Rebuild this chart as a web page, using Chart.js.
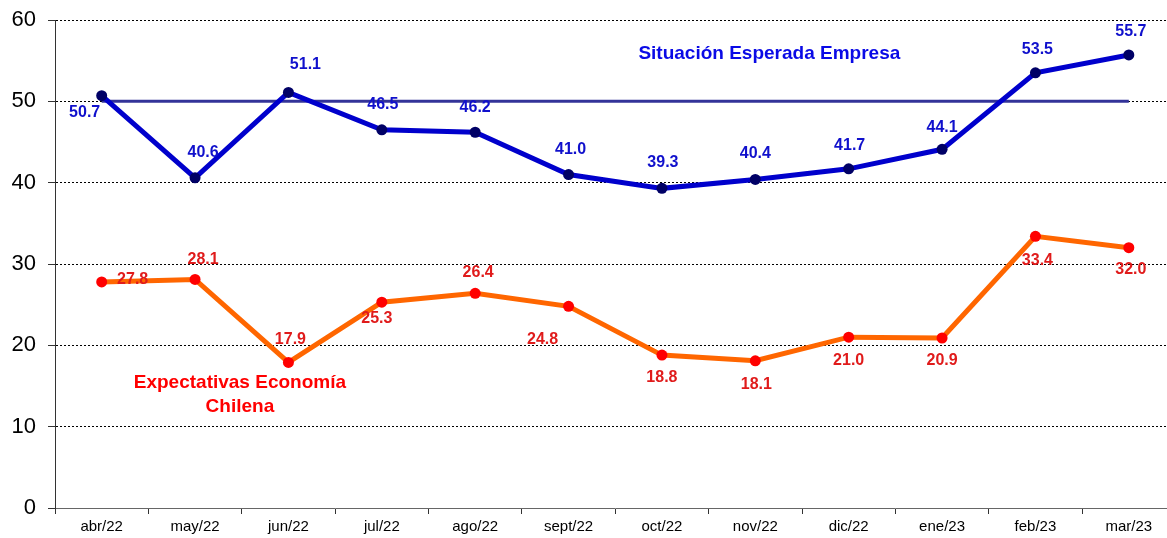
<!DOCTYPE html>
<html>
<head>
<meta charset="utf-8">
<script src="https://cdn.jsdelivr.net/npm/chart.js@4"></script>
<style>
html,body{margin:0;padding:0;background:#fff;overflow:hidden;}
#wrap{width:1181px;height:538px;position:relative;}
</style>
</head>
<body>
<div id="wrap"><canvas id="c"></canvas></div>
<script>
const categories = ['abr/22','may/22','jun/22','jul/22','ago/22','sept/22','oct/22','nov/22','dic/22','ene/23','feb/23','mar/23'];
const empresa = [50.7,40.6,51.1,46.5,46.2,41.0,39.3,40.4,41.7,44.1,53.5,55.7];
const economia = [27.8,28.1,17.9,25.3,26.4,24.8,18.8,18.1,21.0,20.9,33.4,32.0];
const referencia = [50,50,50,50,50,50,50,50,50,50,50,50];
const yTicks = [0,10,20,30,40,50,60];

// label offsets (px) relative to each point
const empresaOffsets = [[-17,17],[8,-25],[17,-28],[1,-25],[0,-25],[2,-25],[1,-26],[0,-26],[1,-23],[0,-22],[2,-23],[2,-23]];
const economiaOffsets = [[31,-2],[8,-20],[2,-23],[-5,16],[3,-21],[-26,33],[0,23],[1,24],[0,23],[0,23],[2,24],[2,22]];

const labelPlugin = {
  id: 'valueLabels',
  afterDatasetsDraw(chart) {
    const ctx = chart.ctx;
    const xs = chart.scales.x;
    ctx.save();
    ctx.textAlign = 'center';
    ctx.textBaseline = 'middle';
    ctx.font = 'bold 16px "Liberation Sans", Arial, sans-serif';
    const cfg = [[0, empresaOffsets, '#1010CC'], [1, economiaOffsets, '#E01B1B']];
    cfg.forEach(([di, offs, color]) => {
      const meta = chart.getDatasetMeta(di);
      ctx.fillStyle = color;
      meta.data.forEach((pt, i) => {
        const v = chart.data.datasets[di].data[i];
        ctx.fillText(v.toFixed(1), pt.x + offs[i][0], pt.y + offs[i][1]);
      });
    });
    const ys = chart.scales.y;
    ctx.font = 'bold 19px "Liberation Sans", Arial, sans-serif';
    ctx.fillStyle = '#0A0AE6';
    ctx.fillText('Situación Esperada Empresa', xs.getPixelForValue(7.15), ys.getPixelForValue(55.8));
    ctx.fillStyle = '#FF0000';
    ctx.fillText('Expectativas Economía', xs.getPixelForValue(1.48), ys.getPixelForValue(15.4));
    ctx.fillText('Chilena', xs.getPixelForValue(1.48), ys.getPixelForValue(12.5));
    ctx.restore();
  }
};

new Chart(document.getElementById('c'), {
  type: 'line',
  data: {
    labels: categories,
    datasets: [
      { label: 'Situación Esperada Empresa', data: empresa, borderColor: '#0000CC', borderWidth: 5, pointBackgroundColor: '#000066', pointBorderColor: '#000066', pointRadius: 5.5, pointBorderWidth: 0, tension: 0, order: 1 },
      { label: 'Expectativas Economía Chilena', data: economia, borderColor: '#FF6600', borderWidth: 5, pointBackgroundColor: '#FF0000', pointBorderColor: '#FF0000', pointRadius: 5.5, pointBorderWidth: 0, tension: 0, order: 2 },
      { label: 'Referencia', data: referencia, borderColor: '#333399', borderWidth: 3, pointRadius: 0, tension: 0, order: 3 }
    ]
  },
  options: {
    responsive: true,
    maintainAspectRatio: false,
    animation: false,
    devicePixelRatio: 1,
    layout: { padding: { top: 20, left: 0, right: 0, bottom: 0 } },
    plugins: { legend: { display: false }, tooltip: { enabled: false } },
    scales: {
      x: {
        offset: true,
        grid: { offset: true, drawOnChartArea: false, drawTicks: true, tickLength: 6, tickColor: '#333', tickWidth: 1 },
        border: { display: true, color: '#666', width: 1 },
        ticks: { color: '#000', font: { family: '"Liberation Sans", Arial, sans-serif', size: 15 }, padding: 4, maxRotation: 0, autoSkip: false },
        afterFit(s) { s.height = 30; }
      },
      y: {
        min: 0, max: 60,
        afterBuildTicks(s) { s.ticks = yTicks.map(v => ({ value: v })); },
        grid: {
          color: ctx => (ctx.tick && ctx.tick.value === 0) ? 'rgba(0,0,0,0)' : '#000',
          lineWidth: 1,
          drawTicks: true, tickLength: 7, tickColor: '#333', tickBorderDash: []
        },
        border: { display: true, color: '#333', width: 1, dash: [2, 2] },
        ticks: { color: '#000', font: { family: '"Liberation Sans", Arial, sans-serif', size: 22, lineHeight: 0.7 }, padding: 12 },
        afterFit(s) { s.width = 55; }
      }
    }
  },
  plugins: [labelPlugin]
});
</script>
</body>
</html>
